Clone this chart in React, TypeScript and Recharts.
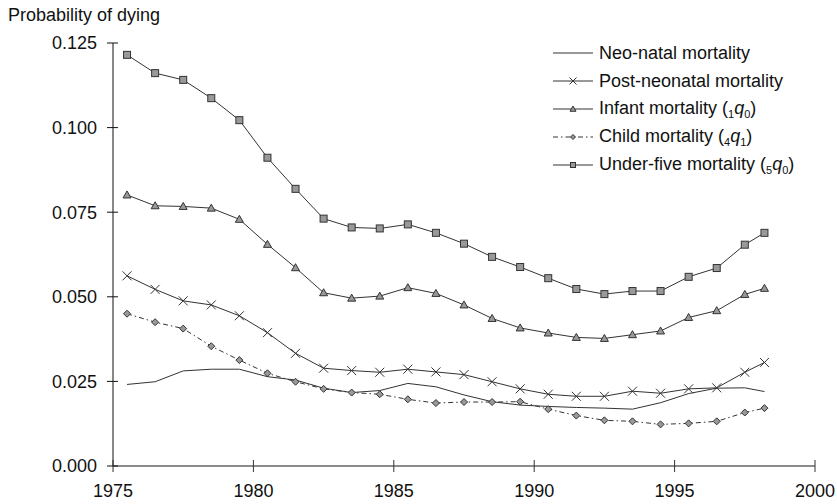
import { LineChart, Line, XAxis, YAxis } from 'recharts';

const years = [1975.5, 1976.5, 1977.5, 1978.5, 1979.5, 1980.5, 1981.5, 1982.5, 1983.5, 1984.5, 1985.5, 1986.5, 1987.5, 1988.5, 1989.5, 1990.5, 1991.5, 1992.5, 1993.5, 1994.5, 1995.5, 1996.5, 1997.5, 1998.2];
const neoNatal = [0.0241, 0.0249, 0.0281, 0.0286, 0.0286, 0.0264, 0.0254, 0.0230, 0.0217, 0.0223, 0.0244, 0.0234, 0.0210, 0.0190, 0.0180, 0.0176, 0.0173, 0.0171, 0.0168, 0.0187, 0.0214, 0.0230, 0.0231, 0.0220];
const postNeonatal = [0.0562, 0.0522, 0.0488, 0.0476, 0.0444, 0.0394, 0.0333, 0.0289, 0.0282, 0.0277, 0.0286, 0.0278, 0.0270, 0.0249, 0.0228, 0.0212, 0.0206, 0.0206, 0.0221, 0.0215, 0.0228, 0.0231, 0.0277, 0.0306];
const infant = [0.0801, 0.0769, 0.0767, 0.0762, 0.0729, 0.0655, 0.0586, 0.0512, 0.0496, 0.0502, 0.0527, 0.0510, 0.0476, 0.0436, 0.0408, 0.0393, 0.0380, 0.0377, 0.0388, 0.0399, 0.0439, 0.0459, 0.0507, 0.0525];
const child = [0.0450, 0.0425, 0.0406, 0.0354, 0.0313, 0.0274, 0.0249, 0.0228, 0.0217, 0.0212, 0.0197, 0.0186, 0.0189, 0.0189, 0.0190, 0.0168, 0.0149, 0.0135, 0.0132, 0.0123, 0.0126, 0.0132, 0.0158, 0.0171];
const underFive = [0.1215, 0.1161, 0.1141, 0.1087, 0.1022, 0.0911, 0.0819, 0.0731, 0.0705, 0.0702, 0.0714, 0.0689, 0.0657, 0.0618, 0.0588, 0.0555, 0.0523, 0.0508, 0.0517, 0.0517, 0.0559, 0.0585, 0.0654, 0.0689];

const xTicks = [1975, 1980, 1985, 1990, 1995, 2000];
const yTicks = [0, 0.025, 0.05, 0.075, 0.1, 0.125];

const data = years.map((y, i) => ({
  year: y,
  neo: neoNatal[i],
  post: postNeonatal[i],
  infant: infant[i],
  child: child[i],
  u5: underFive[i],
}));

const FONT = '"Liberation Sans", Arial, sans-serif';
const LINE = '#333';
const FILL = '#999';
const CHILD_DASH = '5 3 1.5 3';
const TICK_SIZE = 6;
const X_MARGIN = 12;
const Y_MARGIN = 10;

type M = { cx: number; cy: number; s?: number };

const Square = ({ cx, cy, s = 3.5 }: M) => (
  <rect x={cx - s} y={cy - s} width={2 * s} height={2 * s} fill={FILL} stroke={LINE} strokeWidth={1} />
);
const Triangle = ({ cx, cy, s = 4 }: M) => (
  <polygon points={`${cx},${cy - s} ${cx + s},${cy + s * 0.75} ${cx - s},${cy + s * 0.75}`} fill={FILL} stroke={LINE} strokeWidth={1} />
);
const Cross = ({ cx, cy, s = 4.5 }: M) => (
  <path d={`M${cx - s},${cy - s}L${cx + s},${cy + s}M${cx - s},${cy + s}L${cx + s},${cy - s}`} stroke={LINE} strokeWidth={1} fill="none" />
);
const Diamond = ({ cx, cy, s = 3.5 }: M) => (
  <polygon points={`${cx},${cy - s} ${cx + s},${cy} ${cx},${cy + s} ${cx - s},${cy}`} fill={FILL} stroke={LINE} strokeWidth={1} />
);

const dotOf = (Shape: any, name: string) => (p: any) => <Shape key={`${name}-${p.index}`} cx={p.cx} cy={p.cy} />;

// ticks in the original cross the axis line, so draw them by hand
const XTick = (p: any) => {
  const axisY = p.y - TICK_SIZE - X_MARGIN;
  return (
    <g>
      <line x1={p.x} x2={p.x} y1={axisY - 6} y2={axisY + 6} stroke="#333" strokeWidth={1} />
      <text x={p.x} y={p.y} dy="0.71em" textAnchor="middle" fill="#111" fontSize={18} fontFamily={FONT}>
        {p.payload.value}
      </text>
    </g>
  );
};
const YTick = (p: any) => {
  const axisX = p.x + TICK_SIZE + Y_MARGIN;
  return (
    <g>
      <line x1={axisX - 6} x2={axisX + 5} y1={p.y} y2={p.y} stroke="#111" strokeWidth={1} />
      <text x={p.x} y={p.y} dy="0.355em" textAnchor="end" fill="#111" fontSize={18} fontFamily={FONT}>
        {Number(p.payload.value).toFixed(3)}
      </text>
    </g>
  );
};

const sub = { fontSize: 11, position: 'relative' as const, top: 4 };

const legendRows = [
  { label: <>Neo-natal mortality</>, Shape: null, dash: undefined },
  { label: <>Post-neonatal mortality</>, Shape: Cross, dash: undefined, s: 3.5 },
  { label: <>Infant mortality (<span style={sub}>1</span><i>q</i><span style={sub}>0</span>)</>, Shape: Triangle, dash: undefined, s: 3 },
  { label: <>Child mortality (<span style={sub}>4</span><i>q</i><span style={sub}>1</span>)</>, Shape: Diamond, dash: CHILD_DASH, s: 2.5 },
  { label: <>Under-five mortality (<span style={sub}>5</span><i>q</i><span style={sub}>0</span>)</>, Shape: Square, dash: undefined, s: 2.5 },
];

const LegendBox = () => (
  <div style={{ position: 'absolute', left: 553, top: 39.5, fontFamily: FONT, fontSize: 18, color: '#111' }}>
    {legendRows.map((r, i) => (
      <div key={i} style={{ position: 'absolute', top: i * 27.8, left: 0, display: 'flex', alignItems: 'center', height: 27.8 }}>
        <svg width={40} height={12} style={{ marginRight: 6 }}>
          <line x1={0} y1={6} x2={40} y2={6} stroke={LINE} strokeWidth={1} strokeDasharray={r.dash} />
          {r.Shape ? <r.Shape cx={20} cy={6} s={r.s} /> : null}
        </svg>
        <span style={{ whiteSpace: 'nowrap', lineHeight: '20px' }}>{r.label}</span>
      </div>
    ))}
  </div>
);

export default function App() {
  return (
    <div style={{ position: 'absolute', left: 0, top: 0, width: 837, height: 504, background: '#fff' }}>
      <div style={{ position: 'absolute', left: 8, top: 5, fontFamily: FONT, fontSize: 18, color: '#111' }}>
        Probability of dying
      </div>
      <LineChart width={837} height={504} data={data} margin={{ top: 43, right: 22, bottom: 8, left: 53 }}>
        <XAxis
          dataKey="year"
          type="number"
          domain={[1975, 2000]}
          ticks={xTicks}
          allowDataOverflow
          stroke="#666"
          strokeWidth={1.5}
          tickLine={false}
          tickSize={TICK_SIZE}
          tickMargin={X_MARGIN}
          height={30}
          tick={<XTick />}
        />
        <YAxis
          type="number"
          domain={[0, 0.125]}
          ticks={yTicks}
          width={60}
          stroke="#111"
          tickLine={false}
          tickSize={TICK_SIZE}
          tickMargin={Y_MARGIN}
          tick={<YTick />}
        />
        <Line type="linear" dataKey="neo" stroke={LINE} strokeWidth={1} dot={false} isAnimationActive={false} />
        <Line type="linear" dataKey="post" stroke={LINE} strokeWidth={1} dot={dotOf(Cross, 'post')} isAnimationActive={false} />
        <Line type="linear" dataKey="infant" stroke={LINE} strokeWidth={1} dot={dotOf(Triangle, 'inf')} isAnimationActive={false} />
        <Line type="linear" dataKey="child" stroke={LINE} strokeWidth={1} strokeDasharray={CHILD_DASH} dot={dotOf(Diamond, 'child')} isAnimationActive={false} />
        <Line type="linear" dataKey="u5" stroke={LINE} strokeWidth={1} dot={dotOf(Square, 'u5')} isAnimationActive={false} />
      </LineChart>
      <LegendBox />
    </div>
  );
}
